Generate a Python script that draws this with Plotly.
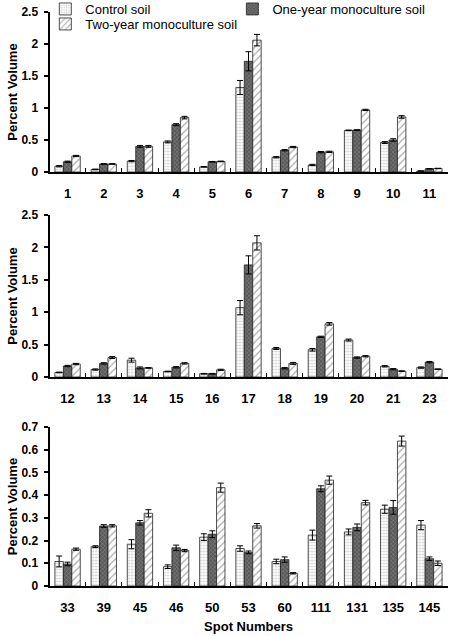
import plotly.graph_objects as go

series_names = ["Control soil", "One-year monoculture soil", "Two-year monoculture soil"]

spots_a = ["1", "2", "3", "4", "5", "6", "7", "8", "9", "10", "11"]
control_a = [0.09, 0.04, 0.17, 0.47, 0.08, 1.32, 0.23, 0.11, 0.65, 0.46, 0.015]
control_a_err = [0.01, 0.005, 0.01, 0.015, 0.005, 0.11, 0.01, 0.01, 0.005, 0.015, 0.003]
oneyear_a = [0.16, 0.125, 0.40, 0.74, 0.16, 1.73, 0.34, 0.31, 0.655, 0.50, 0.05]
oneyear_a_err = [0.01, 0.005, 0.015, 0.015, 0.005, 0.15, 0.01, 0.01, 0.005, 0.02, 0.003]
twoyear_a = [0.25, 0.125, 0.40, 0.85, 0.165, 2.06, 0.39, 0.315, 0.97, 0.86, 0.055]
twoyear_a_err = [0.01, 0.005, 0.015, 0.02, 0.005, 0.09, 0.01, 0.01, 0.01, 0.02, 0.003]

spots_b = ["12", "13", "14", "15", "16", "17", "18", "19", "20", "21", "23"]
control_b = [0.07, 0.115, 0.26, 0.085, 0.05, 1.07, 0.44, 0.42, 0.57, 0.165, 0.145]
control_b_err = [0.005, 0.01, 0.03, 0.005, 0.005, 0.11, 0.015, 0.02, 0.015, 0.01, 0.01]
oneyear_b = [0.17, 0.21, 0.14, 0.15, 0.05, 1.73, 0.135, 0.62, 0.30, 0.12, 0.23]
oneyear_b_err = [0.01, 0.01, 0.015, 0.01, 0.005, 0.14, 0.01, 0.01, 0.01, 0.01, 0.01]
twoyear_b = [0.20, 0.30, 0.14, 0.21, 0.11, 2.07, 0.21, 0.82, 0.32, 0.09, 0.12]
twoyear_b_err = [0.01, 0.015, 0.005, 0.01, 0.01, 0.11, 0.015, 0.02, 0.01, 0.005, 0.005]

spots_c = ["33", "39", "45", "46", "50", "53", "60", "111", "131", "135", "145"]
control_c = [0.108, 0.173, 0.184, 0.085, 0.215, 0.165, 0.108, 0.224, 0.238, 0.338, 0.268]
control_c_err = [0.024, 0.004, 0.02, 0.008, 0.015, 0.012, 0.01, 0.022, 0.013, 0.018, 0.02]
oneyear_c = [0.097, 0.264, 0.278, 0.168, 0.228, 0.148, 0.116, 0.428, 0.258, 0.346, 0.12]
oneyear_c_err = [0.008, 0.006, 0.01, 0.012, 0.015, 0.006, 0.012, 0.013, 0.015, 0.03, 0.008]
twoyear_c = [0.162, 0.265, 0.32, 0.156, 0.433, 0.265, 0.056, 0.466, 0.367, 0.638, 0.1]
twoyear_c_err = [0.005, 0.005, 0.016, 0.005, 0.02, 0.01, 0.003, 0.018, 0.01, 0.022, 0.01]

ylim_a = 2.5
ylim_b = 2.5
ylim_c = 0.7

styles = [
    dict(color="white", pattern=dict(shape=".", fgcolor="#9a9a9a", bgcolor="white", size=3, solidity=0.35)),
    dict(color="#5a5a5a", pattern=dict(shape="x", fgcolor="#b8b8b8", bgcolor="#5a5a5a", size=3, solidity=0.3)),
    dict(color="white", pattern=dict(shape="/", fgcolor="#555555", bgcolor="white", size=5, solidity=0.25)),
]
legend_ids = ["legend", "legend3", "legend2"]

fig = go.Figure()

panels = [
    (spots_a, [(control_a, control_a_err), (oneyear_a, oneyear_a_err), (twoyear_a, twoyear_a_err)], "x", "y", True),
    (spots_b, [(control_b, control_b_err), (oneyear_b, oneyear_b_err), (twoyear_b, twoyear_b_err)], "x2", "y2", False),
    (spots_c, [(control_c, control_c_err), (oneyear_c, oneyear_c_err), (twoyear_c, twoyear_c_err)], "x3", "y3", False),
]

for cats, data, xa, ya, show in panels:
    for i, (vals, errs) in enumerate(data):
        st = styles[i]
        fig.add_trace(go.Bar(
            x=cats, y=vals, name=series_names[i], xaxis=xa, yaxis=ya,
            showlegend=show, legendgroup=series_names[i], legend=legend_ids[i],
            marker=dict(color=st["color"], pattern=st["pattern"],
                        line=dict(color="#222222", width=0.8)),
            error_y=dict(type="data", array=errs, visible=True, color="black",
                         thickness=1, width=3),
        ))

W, H = 453, 636
x0, x1 = 49.5, 447.5
panels_px = [(12, 172), (215, 377), (427, 586)]

def ydom(t, b):
    return [(H - b) / H, (H - t) / H]

tickfont = dict(family="Liberation Sans, Arial", size=12, color="black", weight="bold")
xtickfont = dict(family="Liberation Sans, Arial", size=13, color="black", weight="bold")
titlefont = dict(family="Liberation Sans, Arial", size=13, color="black", weight="bold")
legfont = dict(family="Liberation Sans, Arial", size=13, color="black")

def leg(x, y):
    return dict(orientation="h", x=x, y=y, xanchor="left", yanchor="top", font=legfont,
                bgcolor="rgba(0,0,0,0)", itemwidth=30)

layout = dict(
    width=W, height=H,
    margin=dict(l=0, r=0, t=0, b=0, autoexpand=False),
    paper_bgcolor="white", plot_bgcolor="white",
    barmode="group", bargap=0.3, bargroupgap=0,
    showlegend=True,
    legend=leg(0.1, 1 + 6 / H),
    legend3=leg(0.513, 1 + 6 / H),
    legend2=leg(0.1, 1 - 9 / H),
)

yranges = [ylim_a, ylim_b, ylim_c]
dticks = [0.5, 0.5, 0.1]
for k in range(3):
    sx = "" if k == 0 else str(k + 1)
    t, b = panels_px[k]
    layout["xaxis" + sx] = dict(
        domain=[x0 / W, x1 / W], anchor="y" + sx,
        showline=True, linecolor="black", linewidth=1.5,
        ticks="inside", ticklen=4, tickcolor="black", tickwidth=1,
        tickson="boundaries", tickfont=xtickfont, ticklabelstandoff=9,
        showgrid=False, zeroline=False, automargin=False, fixedrange=True,
    )
    layout["yaxis" + sx] = dict(
        domain=ydom(t, b), anchor="x" + sx,
        range=[0, yranges[k]], dtick=dticks[k], tick0=0,
        showline=True, linecolor="black", linewidth=2,
        ticks="outside", ticklen=4, tickcolor="black", tickwidth=1.5,
        tickfont=tickfont, ticklabelstandoff=3,
        showgrid=False, zeroline=False, automargin=False, fixedrange=True,
        title=dict(text="Percent Volume", font=titlefont, standoff=1),
    )

layout["xaxis3"]["title"] = dict(text="Spot Numbers", font=titlefont, standoff=8)

fig.update_layout(**layout)
fig.write_html("out.html", config={"displayModeBar": False},
               post_script="document.body.style.margin='0';")
